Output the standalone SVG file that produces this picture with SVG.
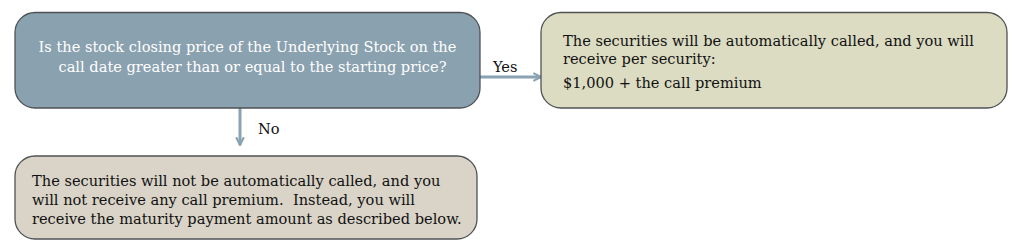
<svg xmlns="http://www.w3.org/2000/svg" width="1015" height="247" viewBox="0 0 1015 247">
<defs>
<style>
.box{stroke:#4f5255;stroke-width:1.3}
.t{font-family:"DejaVu Serif","Liberation Serif",serif;font-size:14.6px;fill:#111;white-space:pre}
.w{fill:#fff}
.conn{stroke:#8aa2b2;stroke-width:3;fill:none}
</style>
<marker id="ah" viewBox="0 0 10 10" refX="9" refY="5" markerWidth="3.2" markerHeight="3.2" markerUnits="strokeWidth" orient="auto">
<path d="M1,1 L9,5 L1,9" fill="none" stroke="#8aa2b2" stroke-width="2.2"/>
</marker>
</defs>
<rect width="1015" height="247" fill="#fff"/>
<g id="connectors">
<line class="conn" x1="480" y1="77" x2="541" y2="77" marker-end="url(#ah)"/>
<line class="conn" x1="240" y1="108" x2="240" y2="145" marker-end="url(#ah)"/>
<text class="t" x="493" y="72">Yes</text>
<text class="t" x="258" y="134">No</text>
</g>
<g id="question">
<rect class="box" x="15" y="12.5" width="465" height="95.5" rx="20" fill="#8aa1b0"/>
<text class="t w" text-anchor="middle" x="247.5" y="52">Is the stock closing price of the Underlying Stock on the</text>
<text class="t w" text-anchor="middle" x="252.5" y="72">call date greater than or equal to the starting price?</text>
</g>
<g id="yes-outcome">
<rect class="box" x="541" y="12.5" width="466" height="95.5" rx="20" fill="#dcdcc2"/>
<text class="t" x="563" y="46">The securities will be automatically called, and you will</text>
<text class="t" x="563" y="64">receive per security:</text>
<text class="t" x="563" y="88">$1,000 + the call premium</text>
</g>
<g id="no-outcome">
<rect class="box" x="15" y="156" width="462" height="83" rx="20" fill="#d9d4c7"/>
<text class="t" x="32" y="186">The securities will not be automatically called, and you</text>
<text class="t" x="32" y="205" xml:space="preserve">will not receive any call premium.  Instead, you will</text>
<text class="t" x="32" y="224">receive the maturity payment amount as described below.</text>
</g>
</svg>
